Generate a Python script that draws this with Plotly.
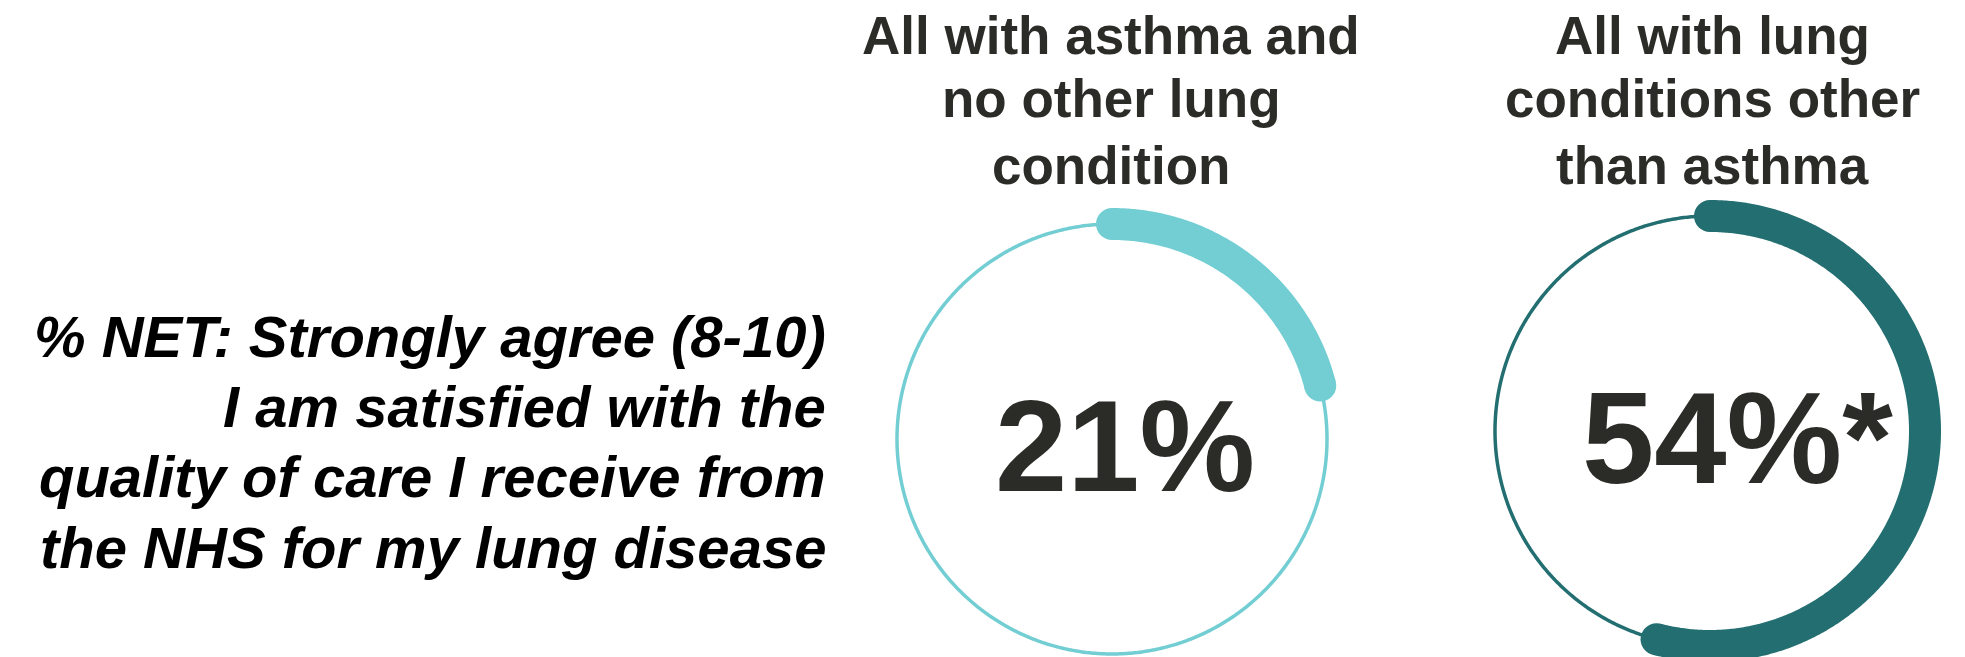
import numpy as np
import plotly.graph_objects as go

# Survey groups, NET agreement shares and significance flags
group_titles = [
    ["All with asthma and", "no other lung", "condition"],
    ["All with lung", "conditions other", "than asthma"],
]
values = [21, 54]
significant = [False, True]
ring_colors = ["#72CED3", "#236E70"]

question_lines = [
    "% NET: Strongly agree (8-10)",
    "I am satisfied with the",
    "quality of care I receive from",
    "the NHS for my lung disease",
]

W, H = 1965, 657
TEXT_DARK = "#2B2B27"
FONT = "Liberation Sans, Arial, sans-serif"

# Ring layout in canvas units (x right, y down): centre and radius
centres = [(1112, 439), (1710, 431)]
radius = 215
title_x = [1111, 1712]
label_dx = [13, 27]
title_baselines = [54.5, 117, 184]
question_baselines = [357, 427, 497, 568]


def ring_xy(cx, cy, r, theta_deg):
    """Clockwise from 12 o'clock, y pointing down."""
    t = np.radians(theta_deg)
    return cx + r * np.sin(t), cy - r * np.cos(t)


def centre_from_baseline(baseline, size):
    return baseline - 0.354 * size


fig = go.Figure()
annotations = []

for i, (title, val, sig, col, (cx, cy)) in enumerate(
    zip(group_titles, values, significant, ring_colors, centres)
):
    # Full thin ring
    x, y = ring_xy(cx, cy, radius, np.linspace(0, 360, 721))
    fig.add_trace(go.Scatter(
        x=x, y=y, mode="lines",
        line=dict(color=col, width=3.5, simplify=False),
        hoverinfo="skip", showlegend=False,
    ))

    # Thick arc for the share, with rounded ends
    end = val / 100 * 360
    x, y = ring_xy(cx, cy, radius, np.linspace(0, end, max(int(end * 2), 2)))
    fig.add_trace(go.Scatter(
        x=x, y=y, mode="lines",
        line=dict(color=col, width=32, simplify=False),
        hoverinfo="skip", showlegend=False,
    ))
    x, y = ring_xy(cx, cy, radius, np.array([0.0, end]))
    fig.add_trace(go.Scatter(
        x=x, y=y, mode="markers",
        marker=dict(color=col, size=32, line=dict(width=0)),
        hoverinfo="skip", showlegend=False, cliponaxis=False,
    ))

    # Group heading above the ring, one line at a time
    for line, base in zip(title, title_baselines):
        annotations.append(dict(
            text=f"<b>{line}</b>", x=title_x[i],
            y=centre_from_baseline(base, 53),
            xref="x", yref="y", xanchor="center", yanchor="middle",
            showarrow=False,
            font=dict(family=FONT, size=53, color=TEXT_DARK),
        ))

    # Value label in the middle of the ring
    label = f"{val}%" + ("*" if sig else "")
    annotations.append(dict(
        text=f"<b>{label}</b>", x=cx + label_dx[i],
        y=centre_from_baseline(cy + 53, 130),
        xref="x", yref="y", xanchor="center", yanchor="middle",
        showarrow=False,
        font=dict(family=FONT, size=130, color=TEXT_DARK),
    ))

# Question text on the left, right-aligned
for line, base in zip(question_lines, question_baselines):
    annotations.append(dict(
        text=f"<b><i>{line}</i></b>", x=828,
        y=centre_from_baseline(base, 58),
        xref="x", yref="y", xanchor="right", yanchor="middle",
        showarrow=False,
        font=dict(family=FONT, size=58, color="#000000"),
    ))

fig.update_layout(
    width=W, height=H,
    margin=dict(l=0, r=0, t=0, b=0),
    paper_bgcolor="white", plot_bgcolor="white",
    showlegend=False,
    annotations=annotations,
    xaxis=dict(range=[0, W], visible=False, fixedrange=True),
    yaxis=dict(range=[H, 0], visible=False, fixedrange=True),
)

fig.write_html("out.html", config=dict(displayModeBar=False))
